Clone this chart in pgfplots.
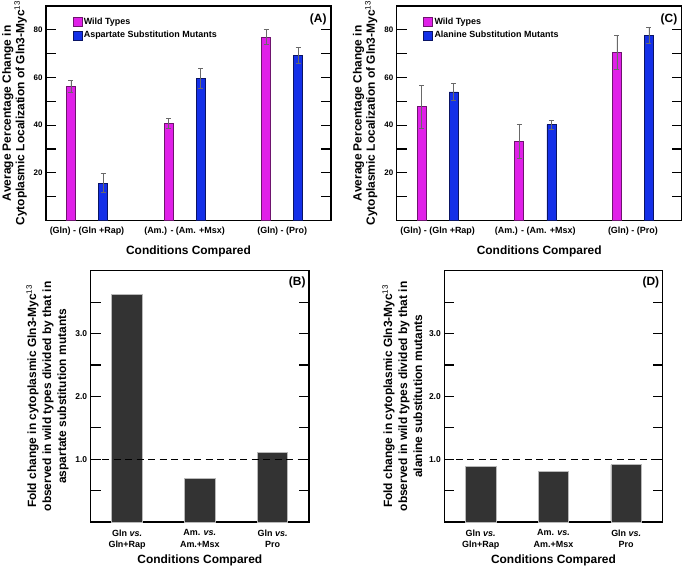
\documentclass[border=0pt]{standalone}
\usepackage{fontspec}
\setmainfont{Liberation Sans}
\usepackage{pgfplots}
\pgfplotsset{compat=1.18}

\definecolor{wt}{RGB}{224,32,232}
\definecolor{wtedge}{RGB}{110,20,110}
\definecolor{mut}{RGB}{20,48,232}
\definecolor{mutedge}{RGB}{10,20,100}
\definecolor{fold}{RGB}{51,51,51}
\definecolor{errc}{RGB}{105,105,105}

\tikzset{panellabel/.style={anchor=north east, inner sep=0pt, font=\bfseries\fontsize{12}{14}\selectfont}}

\pgfplotsset{
  panel/.style={
    scale only axis,
    axis line style={line width=1.4bp},
    tick align=inside,
    ytick pos=both, yticklabel pos=left,
    major tick length=10bp, minor tick length=10bp,
    ytick style={draw=black, line width=1.2bp},
    xtick style={draw=none},
    xtick={0,1,2},
    /pgf/number format/assume math mode=true,
    xlabel={Conditions Compared},
    xlabel style={font=\bfseries\fontsize{12}{14}\selectfont},
    ylabel style={align=center, font=\bfseries\fontsize{12}{13.4}\selectfont},
  },
  pctpanel/.style={
    panel, width=285bp, height=214.5bp,
    xmin=-0.42, xmax=2.5, ymin=0, ymax=90,
    ytick={20,40,60,80}, minor ytick={10,30,50,70},
    yticklabel style={font=\bfseries\fontsize{8}{9}\selectfont},
    xticklabel style={font=\bfseries\fontsize{9}{10}\selectfont, yshift=-3bp},
    xlabel style={yshift=-4bp},
    xticklabels={(Gln) - (Gln +Rap), (Am.) - (Am. +Msx), (Gln) - (Pro)},
    ylabel={Average Percentage Change in\\Cytoplasmic Localization of Gln3-Myc\textsuperscript{\mdseries 13}},
    legend style={at={(0.093,0.952)}, anchor=north west, draw=none, fill=none,
      font=\bfseries\fontsize{9}{10}\selectfont, inner sep=0pt, row sep=2.5bp,
      nodes={inner sep=1.5bp}},
    legend cell align=left,
  },
  foldpanel/.style={
    panel, width=218.3bp, height=251.3bp,
    xmin=-0.5, xmax=2.5, ymin=0, ymax=4,
    ytick={1,2,3}, minor ytick={0.5,1.5,2.5,3.5},
    yticklabel style={font=\bfseries\fontsize{8.5}{10}\selectfont,
      /pgf/number format/.cd, fixed, fixed zerofill, precision=1},
    xticklabel style={font=\bfseries\fontsize{9}{11.7}\selectfont, align=center, yshift=-4bp},
    xlabel style={yshift=1.5bp},
    xticklabels={Gln \textit{vs.}\\Gln+Rap, Am. \textit{vs.}\\Am.+Msx, Gln \textit{vs.}\\Pro},
    ylabel style={font=\bfseries\fontsize{12}{15}\selectfont},
  },
  errs/.style={error bars/.cd, y dir=both, y explicit,
    error bar style={errc, line width=0.7bp},
    error mark options={errc, rotate=90, mark size=2.5bp, line width=0.7bp}},
  wtbar/.style={ybar, bar width=9bp, bar shift=0bp, fill=wt, draw=wtedge, line width=0.6bp,
    legend image code/.code={\draw[##1, line width=0.6bp] (0bp,-4.5bp) rectangle (9bp,4.5bp);},
    errs},
  mutbar/.style={ybar, bar width=9bp, bar shift=0bp, fill=mut, draw=mutedge, line width=0.6bp,
    legend image code/.code={\draw[##1, line width=0.6bp] (0bp,-4.5bp) rectangle (9bp,4.5bp);},
    errs},
  foldbar/.style={ybar, bar width=30.5bp, fill=fold, draw=gray!55, line width=0.8bp},
  oneline/.style={black, line width=1.1bp, dash pattern=on 7bp off 4.5bp},
}

\begin{document}
\begin{tikzpicture}
\path[use as bounding box] (0,0) rectangle (683bp,-566bp);

% (A) wild types vs aspartate substitution mutants
% bars sit 0.164 category units either side of each category
\begin{axis}[pctpanel, at={(46bp,-220.5bp)}, anchor=south west]
\addplot[wtbar] coordinates {(-0.164,56.4) +- (0,2.5) (0.836,40.8) +- (0,2.1) (1.836,76.9) +- (0,3.1)};
\addlegendentry{Wild Types}
\addplot[mutbar] coordinates {(0.164,15.7) +- (0,4.0) (1.164,59.7) +- (0,4.2) (2.164,69.4) +- (0,3.4)};
\addlegendentry{Aspartate Substitution Mutants}
\node[panellabel] at (rel axis cs:0.985,0.965) {(A)};
\end{axis}

% (C) wild types vs alanine substitution mutants
\begin{axis}[pctpanel, at={(396.7bp,-220.5bp)}, anchor=south west]
\addplot[wtbar] coordinates {(-0.164,47.8) +- (0,9.0) (0.836,33.2) +- (0,7.3) (1.836,70.5) +- (0,7.1)};
\addlegendentry{Wild Types}
\addplot[mutbar] coordinates {(0.164,54.0) +- (0,3.6) (1.164,40.2) +- (0,2.0) (2.164,77.8) +- (0,3.4)};
\addlegendentry{Alanine Substitution Mutants}
\node[panellabel] at (rel axis cs:0.985,0.965) {(C)};
\end{axis}

% (B) fold change, aspartate
\begin{axis}[foldpanel, at={(90.7bp,-522bp)}, anchor=south west,
  ylabel={Fold change in cytoplasmic Gln3-Myc\textsuperscript{\mdseries 13}\\observed in wild types divided by that in\\aspartate substitution mutants}]
\addplot[foldbar] coordinates {(0,3.62) (1,0.69) (2,1.11)};
\addplot[oneline] coordinates {(-0.5,1) (2.5,1)};
\node[panellabel] at (rel axis cs:0.985,0.975) {(B)};
\end{axis}

% (D) fold change, alanine
\begin{axis}[foldpanel, at={(444.3bp,-522bp)}, anchor=south west,
  ylabel={Fold change in cytoplasmic Gln3-Myc\textsuperscript{\mdseries 13}\\observed in wild types divided by that in\\alanine substitution mutants}]
\addplot[foldbar] coordinates {(0,0.89) (1,0.81) (2,0.91)};
\addplot[oneline] coordinates {(-0.5,1) (2.5,1)};
\node[panellabel] at (rel axis cs:0.985,0.975) {(D)};
\end{axis}
\end{tikzpicture}
\end{document}
